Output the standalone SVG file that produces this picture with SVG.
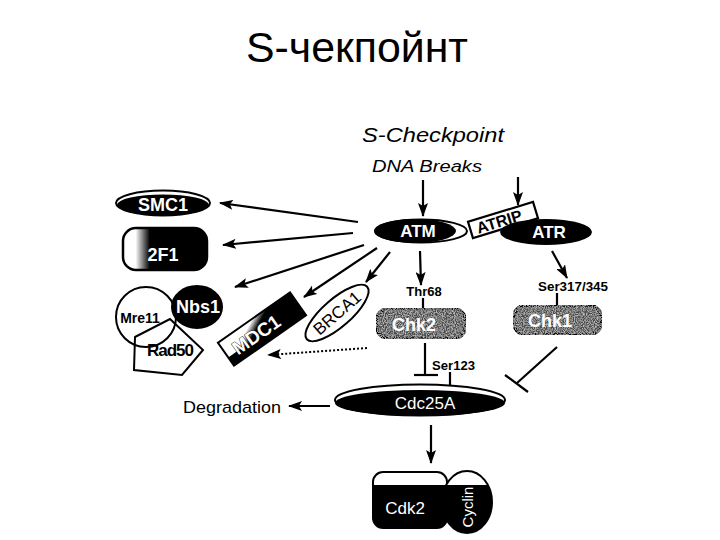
<svg xmlns="http://www.w3.org/2000/svg" width="720" height="540" viewBox="0 0 720 540">
<style>
.t{font-family:"Liberation Sans",Arial,sans-serif}
.w{fill:#fff;font-weight:bold}
.b{fill:#000;font-weight:bold}
.ln{stroke:#000;stroke-width:2.2;fill:none}
.ar{marker-end:url(#ah)}
.dot{stroke-dasharray:2 2;stroke-width:2}
.outl{fill:#fff;stroke:#000;stroke-width:2}
.chk{fill:#4a4a4a;stroke:#000;stroke-width:3.5}
</style>
<defs>
<marker id="ah" markerUnits="userSpaceOnUse" markerWidth="14" markerHeight="10" refX="13" refY="5" orient="auto">
<path d="M0,0 L14,5 L0,10 L3,5 z" fill="#000"/>
</marker>
<marker id="ahs" markerUnits="userSpaceOnUse" markerWidth="10" markerHeight="8" refX="10" refY="4" orient="auto">
<path d="M0,0 L10,4 L0,8 z" fill="#000"/>
</marker>
<linearGradient id="g2f1" x1="0" y1="0" x2="1" y2="0">
<stop offset="0.15" stop-color="#fff"/>
<stop offset="0.32" stop-color="#000"/>
<stop offset="1" stop-color="#000"/>
</linearGradient>
<linearGradient id="gmdc" x1="0" y1="0" x2="1" y2="0.6">
<stop offset="0.35" stop-color="#fff"/>
<stop offset="0.5" stop-color="#000"/>
</linearGradient>
<clipPath id="cdkclip"><rect x="360" y="485" width="150" height="60"/></clipPath>
<filter id="grain" x="0" y="0" width="1" height="1">
<feTurbulence type="fractalNoise" baseFrequency="0.9" numOctaves="2" seed="3" result="n"/>
<feColorMatrix in="n" type="matrix" values="0 0 0 0 1  0 0 0 0 1  0 0 0 0 1  1.2 0 0 0 -0.45" result="m"/>
<feComposite in="m" in2="SourceGraphic" operator="in" result="c"/>
<feMerge><feMergeNode in="SourceGraphic"/><feMergeNode in="c"/></feMerge>
</filter>
</defs>
<rect width="720" height="540" fill="#fff"/>

<text class="t" x="357" y="62" font-size="42" text-anchor="middle" textLength="222" lengthAdjust="spacingAndGlyphs">S-чекпойнт</text>
<text class="t" x="362" y="142" font-size="21" font-style="italic" textLength="142" lengthAdjust="spacingAndGlyphs">S-Checkpoint</text>
<text class="t" x="372" y="172" font-size="16" font-style="italic" textLength="110" lengthAdjust="spacingAndGlyphs">DNA Breaks</text>

<g id="connectors">
<line class="ln ar" x1="423" y1="180" x2="423" y2="216"/>
<line class="ln ar" x1="518" y1="177" x2="518" y2="205"/>
<line class="ln ar" x1="358" y1="222" x2="220" y2="203"/>
<line class="ln ar" x1="353" y1="233" x2="223" y2="245"/>
<line class="ln ar" x1="364" y1="245" x2="235" y2="287"/>
<line class="ln ar" x1="377" y1="248" x2="304" y2="297"/>
<line class="ln ar" x1="390" y1="252" x2="366" y2="282"/>
<line class="ln ar" x1="420" y1="251" x2="421" y2="285"/>
<line class="ln ar" x1="552" y1="251" x2="567" y2="278"/>
<line class="ln" x1="423" y1="298" x2="423" y2="309"/>
<line class="ln" x1="557" y1="293" x2="557" y2="306"/>
<line class="ln ar dot" x1="367" y1="348" x2="268" y2="355" marker-end="url(#ahs)"/>
<line class="ln" x1="425" y1="343" x2="425" y2="375" stroke-width="3"/>
<line class="ln" x1="414" y1="375" x2="438" y2="375" stroke-width="3"/>
<line class="ln" x1="450" y1="372" x2="450" y2="386" stroke-width="1.6"/>
<line class="ln" x1="557" y1="347" x2="517" y2="383"/>
<line class="ln" x1="505" y1="375" x2="528" y2="392"/>
<line class="ln ar" x1="330" y1="406" x2="289" y2="406"/>
<line class="ln ar" x1="431" y1="425" x2="431" y2="463"/>
</g>

<g id="smc1">
<ellipse class="outl" cx="163" cy="203" rx="47" ry="12.5"/>
<ellipse cx="163" cy="205" rx="46" ry="10.5" fill="#000"/>
<text class="t w" x="163" y="211" font-size="18" text-anchor="middle">SMC1</text>
</g>

<g id="e2f1">
<rect x="123" y="228" width="84" height="42" rx="13" fill="url(#g2f1)" stroke="#000" stroke-width="2.5"/>
<text class="t w" x="163" y="261" font-size="18" text-anchor="middle">2F1</text>
</g>

<g id="mrn">
<circle cx="146" cy="317" r="30" fill="none" stroke="#000" stroke-width="2"/>
<polygon points="135,337 170,319 203,350 182,375 134,370" fill="none" stroke="#000" stroke-width="2"/>
<ellipse cx="197" cy="307" rx="25" ry="21" fill="#000" stroke="#000" stroke-width="2"/>
<text class="t b" x="140" y="323" font-size="14" text-anchor="middle">Mre11</text>
<text class="t w" x="198" y="313" font-size="18" text-anchor="middle">Nbs1</text>
<text class="t b" x="170" y="356" font-size="17" text-anchor="middle" letter-spacing="-1">Rad50</text>
</g>

<g id="mdc1" transform="translate(262,329) rotate(-35)">
<rect x="-44" y="-14" width="88" height="28" fill="url(#gmdc)" stroke="#000" stroke-width="2"/>
<rect x="-44" y="4" width="40" height="10" fill="#000"/>
<text class="t w" x="-8" y="8" font-size="19" text-anchor="middle" stroke="#000" stroke-width="0.8" paint-order="stroke">MDC1</text>
</g>

<g id="brca1" transform="translate(337,313) rotate(-41)">
<ellipse cx="0" cy="0" rx="40" ry="14" class="outl"/>
<text class="t" x="0" y="6" font-size="17" text-anchor="middle">BRCA1</text>
</g>

<g id="atm">
<ellipse class="outl" cx="421" cy="231" rx="46" ry="11.5"/>
<ellipse cx="415" cy="231" rx="41" ry="12" fill="#000"/>
<text class="t w" x="418" y="237" font-size="17" text-anchor="middle">ATM</text>
</g>

<g id="atrip" transform="translate(503,220) rotate(-17)">
<rect x="-34" y="-8.5" width="68" height="17" fill="#fff" stroke="#000" stroke-width="2.2"/>
<text class="t b" x="-4" y="6" font-size="16" text-anchor="middle">ATRIP</text>
</g>

<g id="atr">
<ellipse cx="546" cy="232" rx="46" ry="13" fill="#000"/>
<text class="t w" x="549" y="238" font-size="17" text-anchor="middle">ATR</text>
</g>

<g id="chk2">
<rect class="chk" x="376" y="308" width="90" height="31" rx="14" filter="url(#grain)"/>
<text class="t w" x="414" y="331" font-size="18" text-anchor="middle">Chk2</text>
</g>
<text class="t b" x="424" y="296" font-size="13" text-anchor="middle">Thr68</text>

<g id="chk1">
<rect class="chk" x="513" y="305" width="89" height="30" rx="14" filter="url(#grain)"/>
<text class="t w" x="550" y="327" font-size="18" text-anchor="middle">Chk1</text>
</g>
<text class="t b" x="538" y="291" font-size="13" textLength="70" lengthAdjust="spacingAndGlyphs">Ser317/345</text>
<text class="t b" x="432" y="370" font-size="13" textLength="43" lengthAdjust="spacingAndGlyphs">Ser123</text>

<g id="cdc25a">
<ellipse class="outl" cx="420" cy="400" rx="85" ry="15.5"/>
<ellipse cx="420" cy="403" rx="85" ry="13" fill="#000"/>
<text class="t" x="425" y="409" font-size="17" fill="#fff" text-anchor="middle">Cdc25A</text>
</g>

<text class="t" x="183" y="413" font-size="17" textLength="98" lengthAdjust="spacingAndGlyphs">Degradation</text>

<g id="cdk2">
<rect x="373" y="472" width="74" height="56" rx="10" fill="#fff" stroke="#000" stroke-width="2"/>
<rect x="373" y="472" width="74" height="56" rx="10" fill="#000" clip-path="url(#cdkclip)"/>
<text class="t" x="405" y="514" font-size="17" fill="#fff" text-anchor="middle">Cdk2</text>
</g>
<g id="cyclin">
<ellipse cx="467" cy="502" rx="25" ry="31" fill="#fff" stroke="#000" stroke-width="2"/>
<ellipse cx="467" cy="502" rx="25" ry="31" fill="#000" clip-path="url(#cdkclip)"/>
<text class="t" x="0" y="0" font-size="15" fill="#fff" text-anchor="middle" transform="translate(473,507) rotate(-90)">Cyclin</text>
</g>
</svg>
